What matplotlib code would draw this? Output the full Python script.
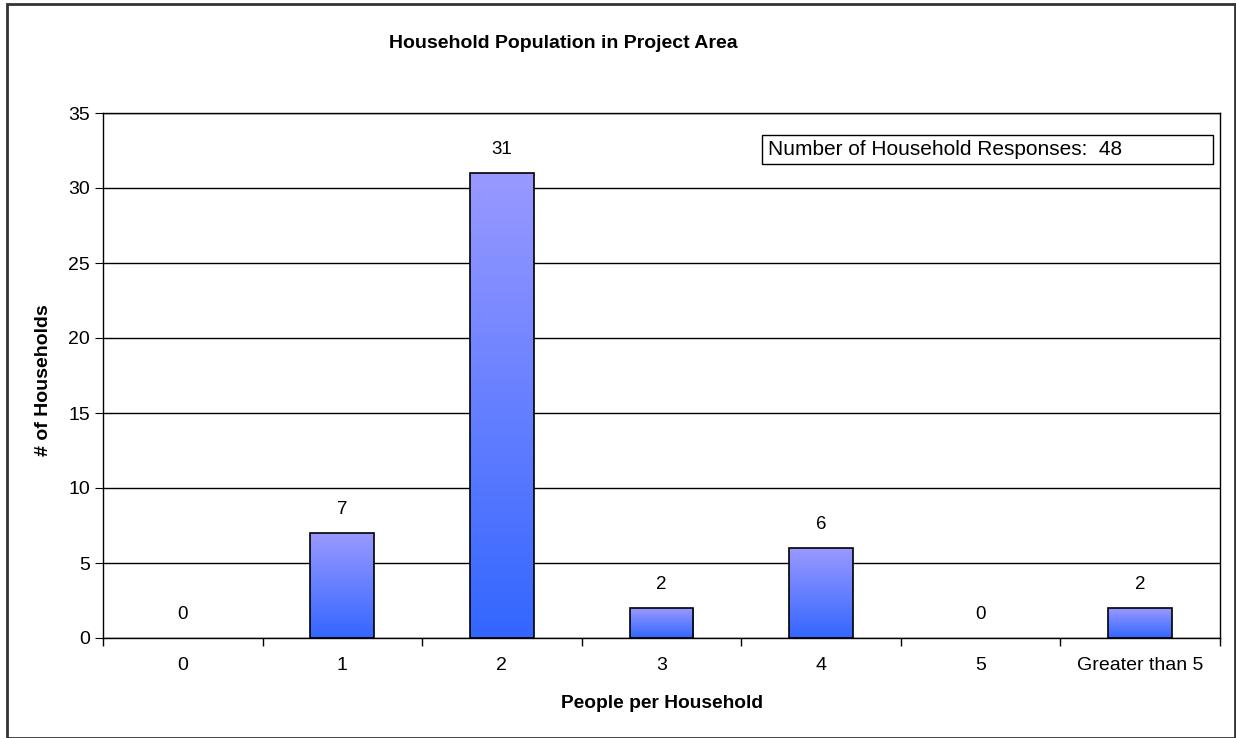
import numpy as np
import matplotlib.pyplot as plt
from matplotlib.patches import Rectangle
from matplotlib.colors import LinearSegmentedColormap

categories = ["0", "1", "2", "3", "4", "5", "Greater than 5"]
households = [0, 7, 31, 2, 6, 0, 2]
n_responses = 48

plt.rcParams["font.family"] = ["Liberation Sans", "DejaVu Sans"]

W, H = 1236, 738
fig = plt.figure(figsize=(W / 100, H / 100), dpi=100)
ax = fig.add_axes([103 / W, 1 - 638 / H, 1117 / W, 525 / H])

x = np.arange(len(categories))
w = 0.4
cmap = LinearSegmentedColormap.from_list("bar", ["#3366ff", "#9999ff"])
grad = np.linspace(0, 1, 256).reshape(-1, 1)

for xi, v in zip(x, households):
    if v > 0:
        ax.bar(xi, v, w, color="none", edgecolor="black", lw=1.2, zorder=3)
        ax.imshow(grad, cmap=cmap, origin="lower", aspect="auto", zorder=2,
                  extent=[xi - w / 2, xi + w / 2, 0, v])
    ax.text(xi, v + 1.0, f"{v}", ha="center", va="bottom", fontsize=13.5)

ax.set_xlim(-0.5, len(categories) - 0.5)
ax.set_ylim(0, 35)
ax.set_yticks(range(0, 36, 5))
ax.set_xticks(x)
ax.set_xticklabels(categories, fontsize=14)
ax.set_xticks(np.arange(-0.5, len(categories), 1), minor=True)
ax.tick_params(axis="x", which="major", length=0, pad=14)
ax.tick_params(axis="x", which="minor", length=6, width=1, direction="out")
ax.tick_params(axis="y", labelsize=14, length=6, direction="out")
ax.grid(axis="y", color="black", lw=1, zorder=1)
for s in ax.spines.values():
    s.set_linewidth(1)

fig.text(662 / W, 1 - 703 / H, "People per Household",
         ha="center", va="center", fontsize=13.8, fontweight="bold")
fig.text(44 / W, 1 - 380 / H, "# of Households", rotation=90,
         ha="center", va="center", fontsize=14, fontweight="bold")
fig.text(563 / W, 1 - 43 / H, "Household Population in Project Area",
         ha="center", va="center", fontsize=14, fontweight="bold")

# annotation box
fig.patches.append(Rectangle((762 / W, 1 - 164 / H), 451 / W, 29 / H,
                             transform=fig.transFigure, fc="white",
                             ec="black", lw=1, zorder=5))
fig.text(768 / W, 1 - 149.5 / H, f"Number of Household Responses:  {n_responses}",
         ha="left", va="center", fontsize=15, zorder=6)

fig.patches.append(Rectangle((7 / W, 0.0), 1 - 8 / W, 1 - 4 / H,
                             transform=fig.transFigure, fill=False,
                             ec="#333333", lw=2))

fig.savefig("out.png", dpi=100)
